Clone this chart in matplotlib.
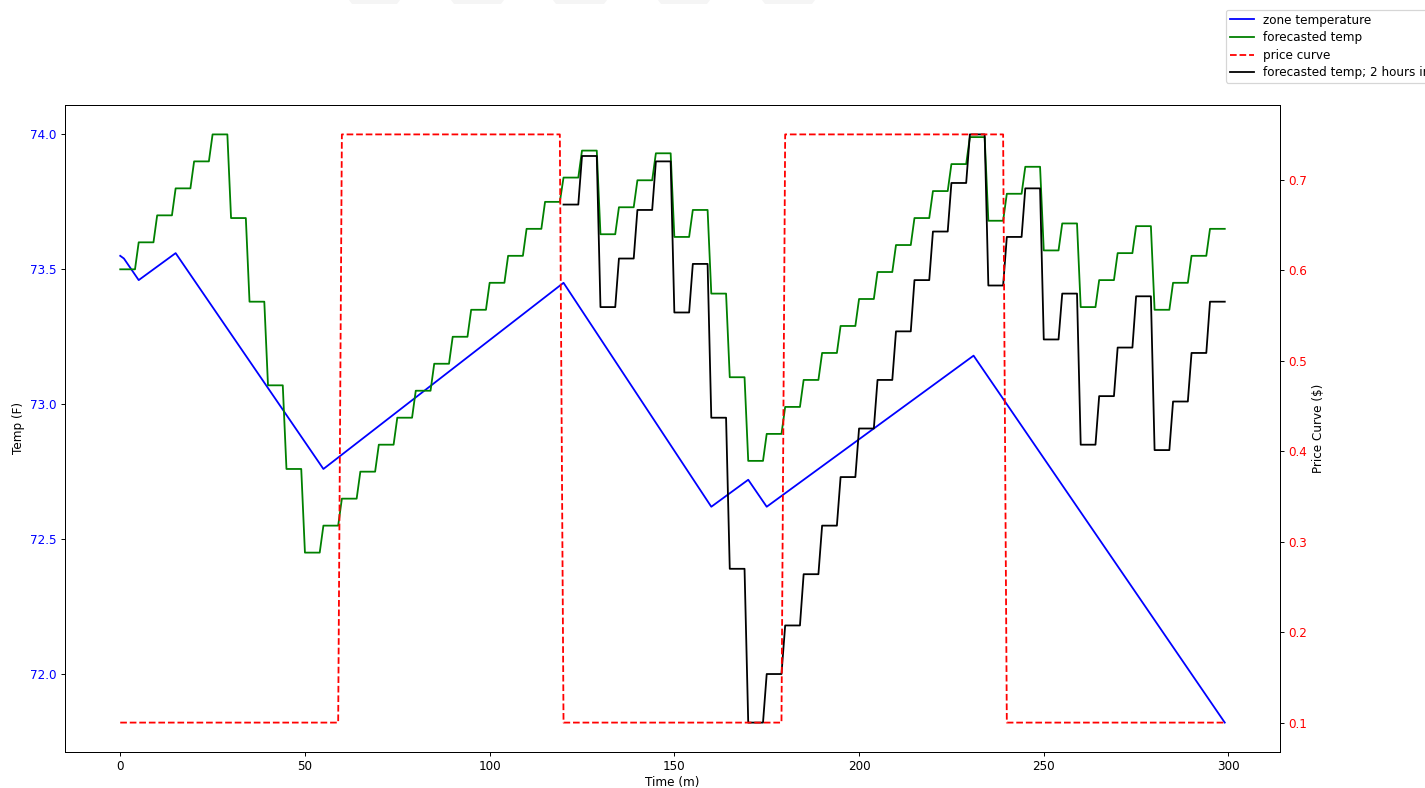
import numpy as np
import matplotlib
matplotlib.use("Agg")
import matplotlib.pyplot as plt
from matplotlib.patches import Polygon

# ---- data ----
minutes = np.arange(300)
block_len = 5

# forecasted temp, one value per 5-minute block (t = 0..299)
forecast_blocks = [73.50, 73.60, 73.70, 73.80, 73.90, 74.00,
                   73.69, 73.38, 73.07, 72.76, 72.45,
                   72.55, 72.65, 72.75, 72.85, 72.95, 73.05, 73.15, 73.25,
                   73.35, 73.45, 73.55, 73.65, 73.75,
                   73.84, 73.94, 73.63, 73.73, 73.83, 73.93, 73.62, 73.72,
                   73.41, 73.10, 72.79, 72.89, 72.99, 73.09, 73.19, 73.29,
                   73.39, 73.49, 73.59, 73.69, 73.79, 73.89, 73.99,
                   73.68, 73.78, 73.88, 73.57, 73.67, 73.36, 73.46, 73.56,
                   73.66, 73.35, 73.45, 73.55, 73.65]

# forecasted temp 2 hours in advance, blocks from t = 120..299
ahead_start = 120
ahead_blocks = [73.74, 73.92, 73.36, 73.54, 73.72, 73.90, 73.34, 73.52,
                72.95, 72.39, 71.82, 72.00, 72.18, 72.37, 72.55, 72.73,
                72.91, 73.09, 73.27, 73.46, 73.64, 73.82, 74.00,
                73.44, 73.62, 73.80, 73.24, 73.41, 72.85, 73.03, 73.21,
                73.40, 72.83, 73.01, 73.19, 73.38]

# price curve: value per hour-long period
price_levels = [0.10, 0.75, 0.10, 0.75, 0.10]
period_len = 60

# zone temperature vertices (time, temp)
zone_t = [0, 1, 5, 15, 55, 120, 160, 170, 175, 231, 299]
zone_temp = [73.55, 73.54, 73.46, 73.56, 72.76, 73.45, 72.62, 72.72, 72.62,
             73.18, 71.82]

legend_labels = ["zone temperature", "forecasted temp", "price curve",
                 "forecasted temp; 2 hours in advance"]

# ---- build series ----
forecast = np.repeat(forecast_blocks, block_len)
ahead_t = np.arange(ahead_start, 300)
ahead = np.repeat(ahead_blocks, block_len)
price = np.repeat(price_levels, period_len)

DPI = 86.4
W, H = 1425, 788
fig = plt.figure(figsize=(W/DPI, H/DPI), dpi=DPI)
ax = fig.add_axes([65/W, 1-752/H, (1280-65)/W, (752-105)/H])

l1, = ax.plot(zone_t, zone_temp, color="blue", lw=1.5, label=legend_labels[0])
l2, = ax.plot(minutes, forecast, color="green", lw=1.5, label=legend_labels[1])
l4, = ax.plot(ahead_t, ahead, color="black", lw=1.5, label=legend_labels[3])
ax.set_xlabel("Time (m)", labelpad=2.5)
ax.set_ylabel("Temp (F)")
ax.tick_params(axis="y", labelcolor="blue")

ax2 = ax.twinx()
l3, = ax2.plot(minutes, price, color="red", ls="--", lw=1.5, label=legend_labels[2])
ax2.set_ylabel("Price Curve ($)")
ax2.tick_params(axis="y", labelcolor="red")

fig.legend([l1, l2, l3, l4], legend_labels, loc="upper left",
           bbox_to_anchor=(1226/W, 1-10/H), borderaxespad=0, fontsize=10,
           labelspacing=0.38, borderpad=0.3)

# faint tab shapes at the top edge of the screenshot
for x0, x1 in [(349, 400), (451, 504), (553, 607), (658, 710), (762, 815)]:
    poly = Polygon([(x0/W, 1), (x1/W, 1), ((x1-3)/W, 1-4/H),
                    ((x0+3)/W, 1-4/H)], closed=True,
                   transform=fig.transFigure, facecolor="#f5f5f5",
                   edgecolor="none")
    fig.patches.append(poly)

fig.savefig("out.png", dpi=DPI)
